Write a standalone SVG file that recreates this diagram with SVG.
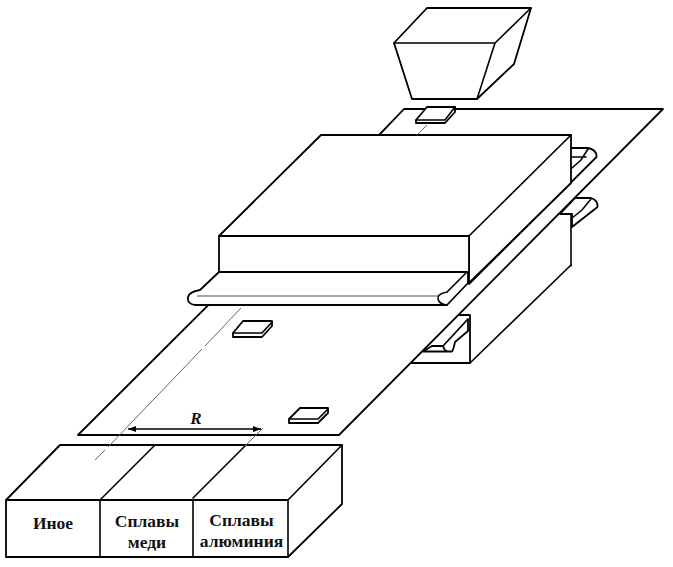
<svg xmlns="http://www.w3.org/2000/svg" width="673" height="567" viewBox="0 0 673 567">
<defs>
<style>
.s{fill:#fff;stroke:#000;stroke-width:1.8;stroke-linejoin:round;stroke-linecap:round}
.t{fill:none;stroke:#000;stroke-width:2.2;stroke-linejoin:round}
.l{fill:none;stroke:#000;stroke-width:1.6;stroke-linecap:round}
.c{fill:none;stroke:#666;stroke-width:1}
.g{fill:none;stroke:#888;stroke-width:1.4}
.x{font-family:"Liberation Serif","Times New Roman",serif;font-weight:bold;font-size:17.500px;fill:#111;text-anchor:middle}
</style>
<marker id="a" viewBox="0 0 8 6" refX="8" refY="3" markerWidth="8" markerHeight="6" orient="auto-start-reverse" markerUnits="userSpaceOnUse"><path d="M0 0L8 3L0 6z" fill="#000"/></marker>
</defs>
<rect width="673" height="567" fill="#fff"/>
<g id="lower-press">
<path class="s" d="M410 363H470V315H456L410 363Z"/>
<path class="l" d="M470 363L571 265"/>
<path class="s" d="M423 351.500L432 346H443L468 319L468 331L455 342Q453 351 452 351.500Z" stroke-width="1.3"/>
<path class="l" d="M443 346Q444 350 447 351.500"/>
</g>
<g id="lower-guide">
<path class="s" d="M575 198H591Q598 200 597.500 207L572 227V214L560 214Z"/>
<path class="l" d="M591 199L582 210L572 218"/>
</g>
<g id="belt">
<path class="s" d="M404 109H663L339 435H78L380 134Z"/>
</g>
<g id="upper-guide">
<path class="s" d="M571 148H588Q597 150 596.500 157L469 284V148Z"/>
<path class="l" d="M571 157H586M588 149L581 160L572 168"/>
</g>
<g id="middle-wall">
<path class="l" d="M571 214V266"/>
</g>
<g id="hopper">
<path class="s" d="M427 8H531L514 64L477 99H412L394 43Z"/>
<path class="l" d="M394 43H495L531 8M495 43L477 99"/>
<path fill="none" stroke="#000" stroke-width="2.200" d="M427 8H531"/>
</g>
<g id="packet-top">
<path class="s" d="M427 107H455V112L445 123H416V120Z"/>
<path class="l" d="M416 120H445L455 107"/>
</g>
<g id="packet-middle">
<path class="s" d="M243 321H272V326L262 337H233V333Z"/>
<path class="l" d="M233 333H262L272 322"/>
</g>
<g id="packet-bottom">
<path class="s" d="M300 408H328V413L318 423H289V419Z"/>
<path class="l" d="M289 419H318L328 409"/>
</g>
<g id="press">
<path class="s" d="M321 135H571V183L469 283V236H219Z"/>
<path class="s" d="M219 236H469V272H219Z"/>
<path class="t" d="M321 135H571M219 236H469"/>
<path class="l" d="M571 135L469 236"/>
</g>
<g id="chute">
<path class="s" d="M219 272H468V283L447 305H195Q187 304 188 297Q189 292 200 290Z"/>
<path class="t" d="M219 272H468"/>
<path class="g" d="M197 296H438"/>
<path class="l" d="M467 272L447 292Q437 294 438 299Q439 304 447 305"/>
</g>
<g id="bin">
<path class="s" d="M60 445H342V504L288 557H6V500Z"/>
<path class="l" d="M288 500V557M288 500L342 445M100 500V557M100 500L154 446M193 500V557M193 498L245 446"/>
<path fill="none" stroke="#000" stroke-width="2.200" d="M60 445H342M6 557H288M6 500H288"/>
</g>
<g id="bin-labels">
<text class="x" x="53" y="529">Иное</text>
<text class="x" x="147" y="527">Сплавы</text>
<text class="x" x="147" y="548">меди</text>
<text class="x" x="241.500" y="526">Сплавы</text>
<text class="x" x="241.500" y="547">алюминия</text>
</g>
<g id="connectors">
<path class="c" d="M427 125L418 134"/>
<path class="c" d="M241 308L205 346M202 349L108 447M105 450L95 460"/>
<path class="c" d="M263 428L245 446"/>
<path d="M128 429H261" fill="none" stroke="#000" stroke-width="1.400" marker-start="url(#a)" marker-end="url(#a)"/>
<text x="196" y="424" font-family="'Liberation Serif',serif" font-style="italic" font-weight="bold" font-size="17" fill="#111" text-anchor="middle">R</text>
</g>
</svg>
